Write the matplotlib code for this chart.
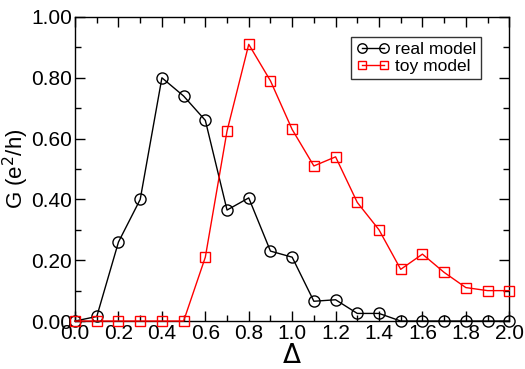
import numpy as np
import matplotlib
matplotlib.use('Agg')
import matplotlib.pyplot as plt
from matplotlib.ticker import MultipleLocator

delta = [0.0, 0.1, 0.2, 0.3, 0.4, 0.5, 0.6, 0.7, 0.8, 0.9, 1.0,
         1.1, 1.2, 1.3, 1.4, 1.5, 1.6, 1.7, 1.8, 1.9, 2.0]
realModel = [0.0, 0.015, 0.26, 0.40, 0.80, 0.74, 0.66, 0.365, 0.405, 0.23, 0.21,
             0.065, 0.07, 0.025, 0.025, 0.0, 0.0, 0.0, 0.0, 0.0, 0.0]
toyModel = [0.0, 0.0, 0.0, 0.0, 0.0, 0.0, 0.21, 0.625, 0.91, 0.79, 0.63,
            0.51, 0.54, 0.39, 0.30, 0.17, 0.22, 0.16, 0.11, 0.10, 0.10]

plt.rcParams['font.family'] = ['Liberation Sans', 'DejaVu Sans']

fig = plt.figure(figsize=(5.25, 3.69), dpi=100)
ax = fig.add_axes([0.143, 0.130, 0.827, 0.824])

ax.plot(delta, realModel, '-o', color='black', lw=1.0, ms=8,
        mfc='none', mew=1.0, label='real model', clip_on=False, zorder=3)
ax.plot(delta, toyModel, '-s', color='red', lw=1.0, ms=7,
        mfc='none', mew=1.0, label='toy model', clip_on=False, zorder=3)

ax.set_xlim(0, 2.0)
ax.set_ylim(0, 1.0)
ax.xaxis.set_major_locator(MultipleLocator(0.2))
ax.xaxis.set_minor_locator(MultipleLocator(0.1))
ax.yaxis.set_major_locator(MultipleLocator(0.2))
ax.yaxis.set_minor_locator(MultipleLocator(0.1))
ax.xaxis.set_major_formatter(matplotlib.ticker.FormatStrFormatter('%.1f'))
ax.yaxis.set_major_formatter(matplotlib.ticker.FormatStrFormatter('%.2f'))
ax.tick_params(which='both', direction='in', top=True, right=True, width=1.0)
ax.tick_params(which='major', length=7, labelsize=15, pad=2)
ax.tick_params(which='minor', length=4)
for s in ax.spines.values():
    s.set_linewidth(1.0)

ax.set_xlabel(r'$\Delta$', fontsize=19, labelpad=1)
ax.set_ylabel(r'G (e$^2$/h)', fontsize=16, labelpad=0)

leg = ax.legend(loc='upper right', bbox_to_anchor=(0.935, 0.935), fontsize=12.5,
                frameon=True, fancybox=False, edgecolor='black', numpoints=2,
                markerscale=0.85, handlelength=1.9, handletextpad=0.3,
                borderpad=0.3, labelspacing=0.1, borderaxespad=0)
leg.get_frame().set_linewidth(1.0)

fig.savefig('out.png', dpi=100)
